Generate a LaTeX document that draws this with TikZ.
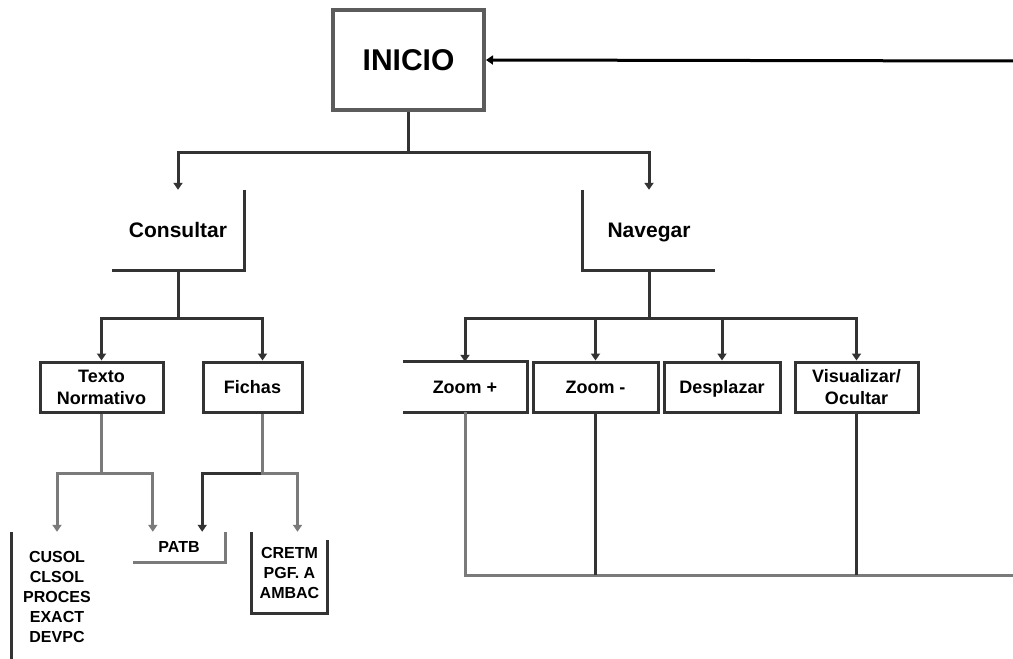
\documentclass[tikz,border=0pt]{standalone}
\usepackage{fontspec}
\setmainfont{Liberation Sans}
\usetikzlibrary{arrows.meta,calc}
\definecolor{lc}{HTML}{333333}
\definecolor{lg}{HTML}{7A7A7A}
\begin{document}
\begin{tikzpicture}[x=1pt,y=-1pt,
  ln/.style={draw=lc,line width=3pt},
  arr/.style={ln,-{Triangle[length=7pt,width=9pt]}},
  bx/.style={inner sep=0pt,align=center,font=\fontsize{18}{22}\selectfont\bfseries},
  one/.style={text height=#1,text depth=0pt},
  one/.default=13pt,
  leaf/.style={inner sep=0pt,align=center,font=\fontsize{16}{20}\selectfont\bfseries}]
\useasboundingbox (0,0) rectangle (1013,659);
% nodes
\node[bx,one=21.5pt,draw=lc!80,line width=4pt,minimum width=151,minimum height=100,font=\fontsize{30}{34}\selectfont\bfseries] (inicio) at (408.5,60) {INICIO};
\node[bx,one=15pt,minimum width=132,minimum height=80,font=\fontsize{21}{24}\selectfont\bfseries] (cons) at (178,230) {Consultar};
\node[bx,one=15pt,minimum width=132,minimum height=80,font=\fontsize{21}{24}\selectfont\bfseries] (nav) at (649,230) {Navegar};
\node[bx,ln,minimum width=123,minimum height=50] (texto) at (101.5,387) {Texto\\Normativo};
\node[bx,one,ln,minimum width=99,minimum height=50] (fichas) at (252.5,387) {Fichas};
\node[bx,one,minimum width=124,minimum height=50] (zp) at (465,387) {Zoom +};
\node[bx,one,ln,minimum width=125,minimum height=50] (zm) at (595.5,387) {Zoom -};
\node[bx,one,ln,minimum width=116,minimum height=50] (desp) at (722,387) {Desplazar};
\node[bx,ln,minimum width=123,minimum height=50] (vis) at (856.5,387) {Visualizar/\\Ocultar};
\node[leaf,minimum width=90,minimum height=130] (cusol) at (57,597) {CUSOL\\CLSOL\\PROCES\\EXACT\\DEVPC};
\node[leaf,one=11.5pt,minimum width=92,minimum height=30] (patb) at (179,547) {PATB};
\node[leaf,minimum width=75,minimum height=81] (cretm) at (289.5,572.5) {CRETM\\PGF. A\\AMBAC};
% partial borders
\draw[ln] (cons.north east) -- (cons.south east) -- (cons.south west);
\draw[ln] (nav.north west) -- (nav.south west) -- (nav.south east);
\draw[ln] (zp.north west) -- (zp.north east) -- (zp.south east) -- (zp.south west);
\draw[ln] (cusol.north west) -- (cusol.south west);
\draw[ln,draw=lg] (patb.north east) -- (patb.south east) -- (patb.south west);
\draw[ln] (cretm.north west) -- (cretm.south west) -- (cretm.south east) -- ($(cretm.north east)+(0,8)$);
% connectors
\draw[arr] (inicio.south) -- ++(0,40) -| (cons.north);
\draw[arr] (inicio.south) -- ++(0,40) -| (nav.north);
\draw[arr] (cons.south) -- ++(0,48) -| (texto.north);
\draw[arr] (cons.south) -- ++(0,48) -| ($(fichas.north)+(10,0)$);
\foreach \t in {zp,zm,desp,vis}{
  \draw[arr] (nav.south) -- ++(0,48) -| (\t.north);
}
\draw[arr,draw=lg] (texto.south) -- ++(0,60) -| (cusol.north);
\draw[arr,draw=lg] (texto.south) -- ++(0,60) -| ($(patb.north west)+(20,0)$);
\draw[arr] ($(fichas.south)+(10,0)$) -- ++(0,60) -| ($(patb.north east)+(-23,0)$);
\draw[arr,draw=lg] ($(fichas.south)+(10,0)$) -- ++(0,60) -| ($(cretm.north)+(8,0)$);
% return loop
\coordinate (e1) at (1017,575);
\coordinate (e2) at (1017,61);
\draw[ln,draw=lg] (zp.south) |- (e1);
\draw[ln] (zm.south) -- (zm.south |- e1);
\draw[ln] (vis.south) -- (vis.south |- e1);
\draw[ln] (e1) -- (e2);
\draw[arr,draw=black] (e2) -- (inicio.east);
\end{tikzpicture}
\end{document}
